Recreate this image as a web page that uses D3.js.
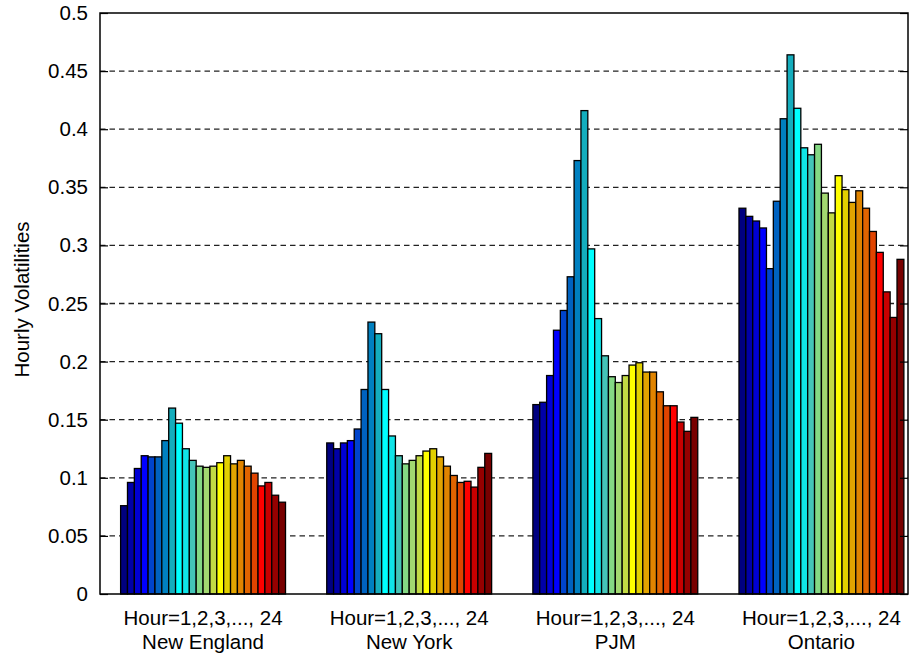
<!DOCTYPE html>
<html>
<head>
<meta charset="utf-8">
<script src="https://cdn.jsdelivr.net/npm/d3@7"></script>
<style>
  html, body { margin: 0; padding: 0; background: #fff; }
  svg { display: block; font-family: "Liberation Sans", Arial, Helvetica, sans-serif; }
</style>
</head>
<body>
<svg id="chart" width="911" height="654"></svg>
<script>
// ---- data ----
const regions = ["New England", "New York", "PJM", "Ontario"];
const hourLabel = "Hour=1,2,3,..., 24";
const hours = d3.range(1, 25);
const newEngland = [0.076,0.096,0.108,0.119,0.118,0.118,0.132,0.160,0.147,0.125,0.115,0.110,0.109,0.110,0.113,0.119,0.112,0.115,0.110,0.104,0.093,0.096,0.085,0.079];
const newYork    = [0.130,0.125,0.130,0.132,0.142,0.176,0.234,0.224,0.176,0.136,0.119,0.112,0.115,0.119,0.123,0.125,0.118,0.110,0.102,0.096,0.097,0.092,0.109,0.121];
const pjm        = [0.163,0.165,0.188,0.227,0.244,0.273,0.373,0.416,0.297,0.237,0.205,0.187,0.182,0.188,0.197,0.199,0.191,0.191,0.174,0.162,0.162,0.148,0.140,0.152];
const ontario    = [0.332,0.325,0.321,0.315,0.280,0.338,0.409,0.464,0.418,0.384,0.378,0.387,0.345,0.328,0.360,0.348,0.337,0.347,0.332,0.312,0.294,0.260,0.238,0.288];
const yTicks = [0, 0.05, 0.1, 0.15, 0.2, 0.25, 0.3, 0.35, 0.4, 0.45, 0.5];
const hourColors = ["#000080","#0000a8","#0000d4","#0000ff","#0044cc","#0062c0","#0080c0","#14adbd",
                    "#00ffff","#10e4e8","#44c4b8","#84d884","#a2d870","#c2da44","#ffff00","#e2d000",
                    "#e2a400","#e08400","#e06400","#e04400","#ff0000","#c80000","#960000","#780000"];

const series = [newEngland, newYork, pjm, ontario];

// ---- layout ----
const L = 100, R = 908, T = 13, B = 594;
const svg = d3.select("#chart");

const x = d3.scaleLinear().domain([0.5, 4.42]).range([L, R]);
const y = d3.scaleLinear().domain([0, 0.5]).range([B, T]);
const groupW = x(1.8) - x(1.0); // 0.8 of a group
const xb = d3.scaleBand().domain(hours).range([-groupW / 2, groupW / 2]).padding(0);

// gridlines
svg.append("g").selectAll("line")
  .data(yTicks.filter(d => d > 0 && d < 0.5))
  .join("line")
  .attr("x1", L).attr("x2", R)
  .attr("y1", d => y(d)).attr("y2", d => y(d))
  .attr("stroke", "#222").attr("stroke-width", 1.3)
  .attr("stroke-dasharray", "5.5,4");

// bars
const groups = svg.append("g").selectAll("g")
  .data(series)
  .join("g")
  .attr("transform", (d, i) => `translate(${x(i + 1)},0)`);

groups.selectAll("rect")
  .data(d => d.map((v, j) => ({ h: hours[j], v })))
  .join("rect")
  .attr("x", d => xb(d.h))
  .attr("width", xb.bandwidth())
  .attr("y", d => y(d.v))
  .attr("height", d => y(0) - y(d.v))
  .attr("fill", (d, j) => hourColors[j])
  .attr("stroke", "#000")
  .attr("stroke-width", 1.3);

// left axis with inward ticks
const yAxis = d3.axisLeft(y).tickValues(yTicks)
  .tickFormat(d => String(+d.toFixed(2)))
  .tickSize(-8).tickPadding(12);
const ga = svg.append("g").attr("transform", `translate(${L},0)`).call(yAxis);
ga.select(".domain").remove();
ga.selectAll(".tick line").attr("stroke", "#000").attr("stroke-width", 1.2);
ga.selectAll(".tick text").attr("font-size", 20.5).attr("fill", "#000")
  .attr("font-family", "'Liberation Sans', Arial, sans-serif");

// right axis inward ticks
const yAxisR = d3.axisRight(y).tickValues(yTicks).tickSize(-8).tickFormat("");
const gr = svg.append("g").attr("transform", `translate(${R},0)`).call(yAxisR);
gr.select(".domain").remove();
gr.selectAll(".tick line").attr("stroke", "#000").attr("stroke-width", 1.2);

// frame
svg.append("rect")
  .attr("x", L).attr("y", T).attr("width", R - L).attr("height", B - T)
  .attr("fill", "none").attr("stroke", "#000").attr("stroke-width", 1.5);

// x labels
const xl = svg.append("g").attr("font-size", 20.5).attr("text-anchor", "middle").attr("fill", "#000");
xl.selectAll("text.h").data(regions).join("text").attr("class", "h")
  .attr("x", (d, i) => x(i + 1)).attr("y", 625).text(hourLabel);
xl.selectAll("text.r").data(regions).join("text").attr("class", "r")
  .attr("x", (d, i) => x(i + 1)).attr("y", 649).text(d => d);

// y label
svg.append("text")
  .attr("transform", `translate(29,${(T + B) / 2 - 4}) rotate(-90)`)
  .attr("text-anchor", "middle").attr("font-size", 20.5).attr("fill", "#000")
  .text("Hourly Volatilities");
</script>
</body>
</html>
